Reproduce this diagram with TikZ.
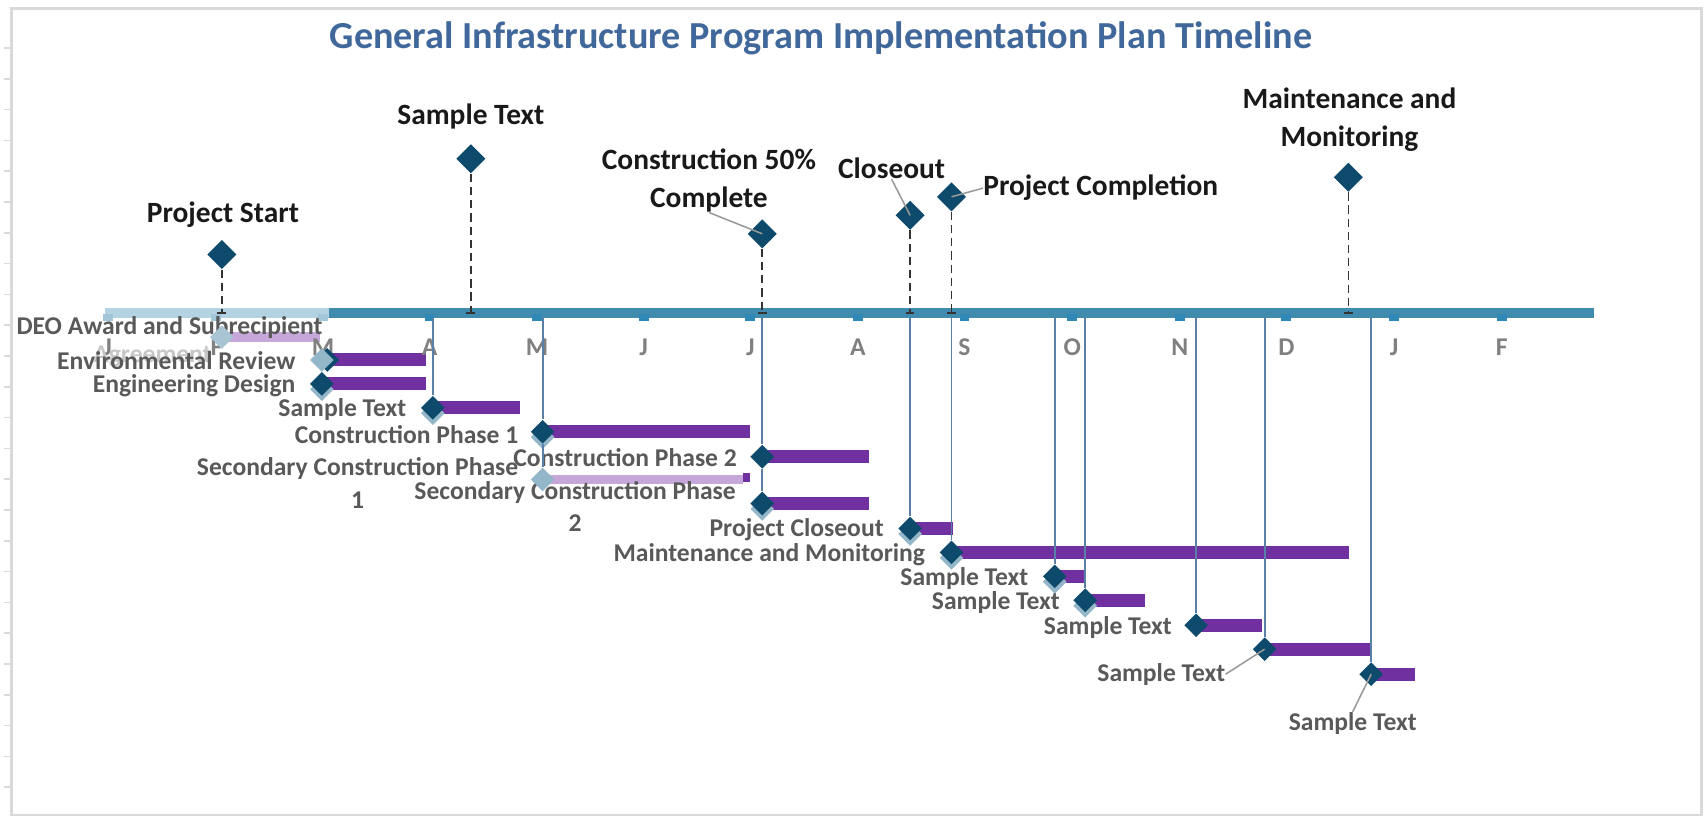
\documentclass[tikz,border=0pt]{standalone}
\usepackage{xcolor}
\usepackage{tikz}
\usetikzlibrary{shapes.geometric, backgrounds, positioning}
\usepackage{fontspec}
\setmainfont{Carlito}

\definecolor{navy}{HTML}{0D4A6B}
\definecolor{shade}{HTML}{93B6C9}
\definecolor{plum}{HTML}{7030A0}
\definecolor{lplum}{HTML}{C6A7DA}
\definecolor{axisblue}{HTML}{418BAF}
\definecolor{laxis}{HTML}{B3D3E3}
\definecolor{tickblue}{HTML}{2F88B5}
\definecolor{ltick}{HTML}{A3C6D8}
\definecolor{titleblue}{HTML}{41689B}
\definecolor{dropblue}{HTML}{5A80A8}
\definecolor{txtgray}{HTML}{595959}
\definecolor{framegray}{HTML}{D9D9D9}

\begin{document}
\begin{tikzpicture}[x=0.02cm, y=-0.02cm,
			mdiam/.style={diamond, fill=navy, minimum size=0.54cm, inner sep=0pt},
			tdiam/.style={diamond, fill=navy, minimum size=0.44cm, inner sep=0pt},
			sdiam/.style={tdiam, fill=shade},
			mlabel/.style={font=\fontsize{15.4}{19.8}\selectfont\bfseries, text=black!90, align=center, inner sep=0pt},
			tlabel/.style={font=\fontsize{13.4}{17}\selectfont\bfseries, text=txtgray, align=center, anchor=east, inner sep=0pt},
			month/.style={font=\fontsize{13.4}{15}\selectfont\bfseries, text=black!50},
			tick/.style={rectangle, fill=tickblue, minimum width=0.18cm, minimum height=0.13cm, inner sep=0pt},
			dline/.style={black!80, line width=0.85pt, dash pattern=on 4.3pt off 2.6pt},
			amark/.style={black!80, line width=0.85pt},
			drop/.style={dropblue, line width=0.95pt},
			leader/.style={black!40, line width=0.8pt},
			bar/.style={plum, line width=0.24cm},
			lbar/.style={lplum, line width=0.17cm}]

			\useasboundingbox (0,0) rectangle (1568,751.4);
			\draw[framegray, line width=0.05cm] (10.5,7.7) rectangle (1565,749.5);
			\draw[framegray, line width=0.03cm] (4,44.1) -- (10.5,44.1) (4,72.4) -- (10.5,72.4) (4,100.8) -- (10.5,100.8) (4,129.1) -- (10.5,129.1) (4,157.4) -- (10.5,157.4) (4,185.8) -- (10.5,185.8) (4,214.1) -- (10.5,214.1) (4,242.4) -- (10.5,242.4) (4,270.7) -- (10.5,270.7) (4,299) -- (10.5,299) (4,327.4) -- (10.5,327.4) (4,355.7) -- (10.5,355.7) (4,384) -- (10.5,384) (4,412.4) -- (10.5,412.4) (4,440.7) -- (10.5,440.7) (4,469) -- (10.5,469) (4,497.3) -- (10.5,497.3) (4,525.7) -- (10.5,525.7) (4,554) -- (10.5,554) (4,582.3) -- (10.5,582.3) (4,610.7) -- (10.5,610.7) (4,639) -- (10.5,639) (4,667.3) -- (10.5,667.3) (4,695.7) -- (10.5,695.7) (4,724) -- (10.5,724);

			\node[font=\fontsize{20}{24}\selectfont\bfseries, text=titleblue] (title) at (755,35) {General Infrastructure Program Implementation Plan Timeline};

			\fill[laxis] (97,283.5) rectangle (303,292.5);
			\fill[axisblue] (303,283.5) rectangle (1466,292.5);

			\node[tick, fill=ltick] (k1) at (99,292) {}; \node[month] (m1) at (99,319) {J};
			\node[tick, fill=ltick] (k2) at (199,292) {}; \node[month] (m2) at (199,319) {F};
			\node[tick, fill=ltick] (k3) at (297,292) {}; \node[month] (m3) at (297,319) {M};
			\node[tick] (k4) at (395,292) {}; \node[month] (m4) at (395,319) {A};
			\node[tick] (k5) at (494,292) {}; \node[month] (m5) at (494,319) {M};
			\node[tick] (k6) at (592,292) {}; \node[month] (m6) at (592,319) {J};
			\node[tick] (k7) at (690,292) {}; \node[month] (m7) at (690,319) {J};
			\node[tick] (k8) at (789,292) {}; \node[month] (m8) at (789,319) {A};
			\node[tick] (k9) at (887,292) {}; \node[month] (m9) at (887,319) {S};
			\node[tick] (k10) at (986,292) {}; \node[month] (m10) at (986,319) {O};
			\node[tick] (k11) at (1085,292) {}; \node[month] (m11) at (1085,319) {N};
			\node[tick] (k12) at (1183,292) {}; \node[month] (m12) at (1183,319) {D};
			\node[tick] (k13) at (1282,292) {}; \node[month] (m13) at (1282,319) {J};
			\node[tick] (k14) at (1381,292) {}; \node[month] (m14) at (1381,319) {F};

			\coordinate (a1) at (204,288);
			\coordinate (a2) at (433,288);
			\coordinate (a3) at (701,288);
			\coordinate (a4) at (837,288);
			\coordinate (a5) at (875,288);
			\coordinate (a6) at (1240,288);

			\node[mdiam] (ms1) at (204,234) {};
			\node[mdiam] (ms2) at (433,146) {};
			\node[mdiam] (ms3) at (701,215) {};
			\node[mdiam] (ms4) at (837,198) {};
			\node[mdiam] (ms5) at (875,181) {};
			\node[mdiam] (ms6) at (1240,163) {};

			\node[mlabel] (ls1) at (205,197) {Project Start};
			\node[mlabel] (ls2) at (433,107) {Sample Text};
			\node[mlabel] (ls3) at (652,166) {Construction 50\%\\Complete};
			\node[mlabel] (ls4) at (820,155) {Closeout};
			\node[mlabel, anchor=west] (ls5) at (904,173) {Project Completion};
			\node[mlabel] (ls6) at (1241,110) {Maintenance and\\Monitoring};

			\draw[dline] (ms1) -- (a1);
			\draw[dline] (ms2) -- (a2);
			\draw[dline] (ms3) -- (a3);
			\draw[dline] (ms4) -- (a4);
			\draw[dline] (ms5) -- (a5);
			\draw[dline] (ms6) -- (a6);
			\draw[amark] (a1) ++(-4,0) -- ++(8,0);
			\draw[amark] (a2) ++(-4,0) -- ++(8,0);
			\draw[amark] (a3) ++(-4,0) -- ++(8,0);
			\draw[amark] (a4) ++(-4,0) -- ++(8,0);
			\draw[amark] (a5) ++(-4,0) -- ++(8,0);
			\draw[amark] (a6) ++(-4,0) -- ++(8,0);

			\draw[leader] (ls3.south) -- (ms3.center);
			\draw[leader] (ls4.south) -- (ms4.center);
			\draw[leader] (ls5.west) -- (ms5.center);

			\coordinate (b4) at (398,292);
			\coordinate (b5) at (499,292);
			\coordinate (b7) at (701,292);
			\coordinate (b9) at (837,292);
			\coordinate (b10) at (875,292);
			\coordinate (b11) at (970,292);
			\coordinate (b12) at (998,292);
			\coordinate (b13) at (1100,292);
			\coordinate (b14) at (1163,292);
			\coordinate (b15) at (1261,292);

			\coordinate (e1) at (294,310);
			\coordinate (e2) at (392,331);
			\coordinate (e3) at (392,353);
			\coordinate (e4) at (478,375);
			\coordinate (e5) at (690,397);
			\coordinate (e6) at (683,441);
			\coordinate (e7) at (799,420);
			\coordinate (e8) at (799,463);
			\coordinate (e9) at (876,486);
			\coordinate (e10) at (1241,508);
			\coordinate (e11) at (999,530);
			\coordinate (e12) at (1053,552);
			\coordinate (e13) at (1161,575);
			\coordinate (e14) at (1260,597);
			\coordinate (e15) at (1301,620);

			\node[tlabel, text=black!22] (l1b) at (195,328) {Agreement};
			\node[tlabel] (l1) at (297,301) {DEO Award and Subrecipient};
			\node[tlabel] (l2) at (272,332) {Environmental Review};
			\node[tlabel] (l3) at (272,355) {Engineering Design};
			\node[tlabel] (l4) at (374,377) {Sample Text};
			\node[tlabel] (l5) at (477,400) {Construction Phase 1};
			\node[tlabel] (l6) at (477,444) {Secondary Construction Phase\\1};
			\node[tlabel] (l7) at (678,421) {Construction Phase 2};
			\node[tlabel] (l8) at (677,466) {Secondary Construction Phase\\2};
			\node[tlabel] (l9) at (813,487) {Project Closeout};
			\node[tlabel] (l10) at (851,510) {Maintenance and Monitoring};
			\node[tlabel] (l11) at (946,532) {Sample Text};
			\node[tlabel] (l12) at (975,554) {Sample Text};
			\node[tlabel] (l13) at (1078,577) {Sample Text};
			\node[tlabel, anchor=center] (l14) at (1068,620) {Sample Text};
			\node[tlabel, anchor=center] (l15) at (1244,665) {Sample Text};

			\node[sdiam, fill=shade!80] (d1) at (204,310) {};
			\node[tdiam] (d2x) at (301,331) {};
			\node[sdiam] (d2) at (296,331) {};
			\node[sdiam] (s3) at (296,358) {};
			\node[tdiam] (d3) at (296,353) {};
			\node[sdiam] (s4) at (398,380) {};
			\node[tdiam] (d4) at (398,375) {};
			\node[sdiam] (s5) at (499,402) {};
			\node[tdiam] (d5) at (499,397) {};
			\node[sdiam] (d6) at (499,441) {};
			\node[tdiam] (d7) at (701,420) {};
			\node[sdiam] (s8) at (701,468) {};
			\node[tdiam] (d8) at (701,463) {};
			\node[sdiam] (s9) at (837,491) {};
			\node[tdiam] (d9) at (837,486) {};
			\node[sdiam] (s10) at (875,513) {};
			\node[tdiam] (d10) at (875,508) {};
			\node[sdiam] (s11) at (970,535) {};
			\node[tdiam] (d11) at (970,530) {};
			\node[sdiam] (s12) at (998,557) {};
			\node[tdiam] (d12) at (998,552) {};
			\node[tdiam] (d13) at (1100,575) {};
			\node[tdiam] (d14) at (1163,597) {};
			\node[tdiam] (d15) at (1261,620) {};

			\begin{scope}[on background layer]
				\draw[lbar] (d1.center) -- (e1);
				\draw[bar] (d2.center) -- (e2);
				\draw[bar] (d3.center) -- (e3);
				\draw[bar] (d4.center) -- (e4);
				\draw[bar] (d5.center) -- (e5);
				\draw[lbar] (d6.center) -- (e6);
				\draw[bar, line width=0.17cm] (e6) ++(0,-2) -- ++(7,0);
				\draw[bar] (d7.center) -- (e7);
				\draw[bar] (d8.center) -- (e8);
				\draw[bar] (d9.center) -- (e9);
				\draw[bar] (d10.center) -- (e10);
				\draw[bar] (d11.center) -- (e11);
				\draw[bar] (d12.center) -- (e12);
				\draw[bar] (d13.center) -- (e13);
				\draw[bar] (d14.center) -- (e14);
				\draw[bar] (d15.center) -- (e15);
			\end{scope}

			\draw[drop] (b4) -- (d4);
			\draw[drop] (b5) -- (d5);
			\draw[drop] (d5) -- (d6);
			\draw[drop] (b7) -- (d7);
			\draw[drop] (d7) -- (d8);
			\draw[drop] (b9) -- (d9);
			\draw[drop] (b10) -- (d10);
			\draw[drop] (b11) -- (d11);
			\draw[drop] (b12) -- (d12);
			\draw[drop] (b13) -- (d13);
			\draw[drop] (b14) -- (d14);
			\draw[drop] (b15) -- (d15);

			\draw[leader] (l14.east) -- (d14.center);
			\draw[leader] (l15.north) -- (d15.center);
		\end{tikzpicture}
\end{document}
